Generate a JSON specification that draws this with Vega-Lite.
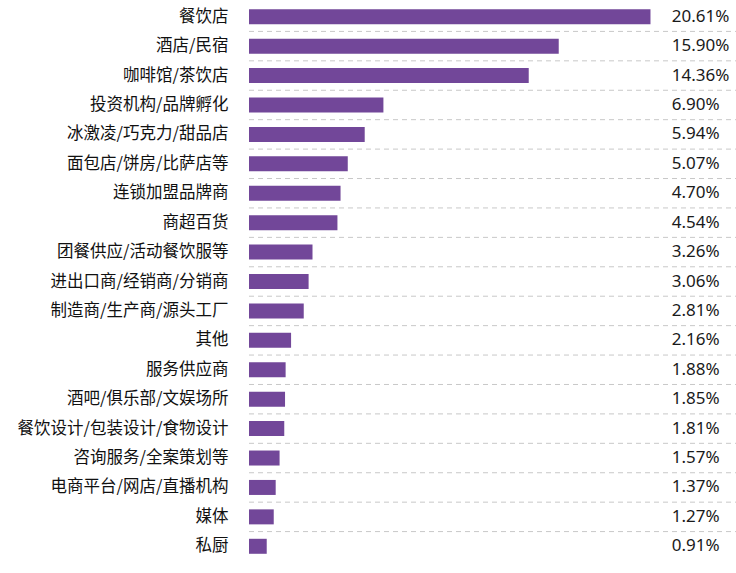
{
  "$schema": "https://vega.github.io/schema/vega-lite/v6.json",
  "autosize": "none",
  "width": 487,
  "height": 559,
  "padding": {"left": 249, "top": 2, "right": 0, "bottom": 12},
  "background": "white",
  "config": {"view": {"stroke": null}, "font": "Noto Sans CJK SC"},
  "datasets": {
    "rows": [
      {"cat": "餐饮店", "v": 20.61, "label": "20.61%", "sep": 0},
      {"cat": "酒店/民宿", "v": 15.90, "label": "15.90%", "sep": 1},
      {"cat": "咖啡馆/茶饮店", "v": 14.36, "label": "14.36%", "sep": 1},
      {"cat": "投资机构/品牌孵化", "v": 6.90, "label": "6.90%", "sep": 1},
      {"cat": "冰激凌/巧克力/甜品店", "v": 5.94, "label": "5.94%", "sep": 1},
      {"cat": "面包店/饼房/比萨店等", "v": 5.07, "label": "5.07%", "sep": 1},
      {"cat": "连锁加盟品牌商", "v": 4.70, "label": "4.70%", "sep": 1},
      {"cat": "商超百货", "v": 4.54, "label": "4.54%", "sep": 1},
      {"cat": "团餐供应/活动餐饮服等", "v": 3.26, "label": "3.26%", "sep": 1},
      {"cat": "进出口商/经销商/分销商", "v": 3.06, "label": "3.06%", "sep": 1},
      {"cat": "制造商/生产商/源头工厂", "v": 2.81, "label": "2.81%", "sep": 1},
      {"cat": "其他", "v": 2.16, "label": "2.16%", "sep": 1},
      {"cat": "服务供应商", "v": 1.88, "label": "1.88%", "sep": 1},
      {"cat": "酒吧/俱乐部/文娱场所", "v": 1.85, "label": "1.85%", "sep": 1},
      {"cat": "餐饮设计/包装设计/食物设计", "v": 1.81, "label": "1.81%", "sep": 1},
      {"cat": "咨询服务/全案策划等", "v": 1.57, "label": "1.57%", "sep": 1},
      {"cat": "电商平台/网店/直播机构", "v": 1.37, "label": "1.37%", "sep": 1},
      {"cat": "媒体", "v": 1.27, "label": "1.27%", "sep": 1},
      {"cat": "私厨", "v": 0.91, "label": "0.91%", "sep": 1}
    ]
  },
  "data": {"name": "rows"},
  "resolve": {"scale": {"y": "independent"}},
  "layer": [
    {
      "transform": [{"filter": "datum.sep == 1"}],
      "mark": {"type": "rule", "color": "#c8c8c8", "strokeWidth": 1, "strokeDash": [5, 4]},
      "encoding": {
        "x": {"datum": 0, "type": "quantitative", "scale": {"domain": [0, 25], "nice": false}, "axis": null},
        "x2": {"datum": 25},
        "y": {
          "field": "cat", "type": "nominal", "sort": null, "bandPosition": 0,
          "scale": {"domain": ["餐饮店", "酒店/民宿", "咖啡馆/茶饮店", "投资机构/品牌孵化", "冰激凌/巧克力/甜品店", "面包店/饼房/比萨店等", "连锁加盟品牌商", "商超百货", "团餐供应/活动餐饮服等", "进出口商/经销商/分销商", "制造商/生产商/源头工厂", "其他", "服务供应商", "酒吧/俱乐部/文娱场所", "餐饮设计/包装设计/食物设计", "咨询服务/全案策划等", "电商平台/网店/直播机构", "媒体", "私厨"], "paddingInner": 0, "paddingOuter": 0},
          "axis": null
        }
      }
    },
    {
      "encoding": {
        "y": {
          "field": "cat", "type": "nominal", "sort": null,
          "scale": {"paddingInner": 0.49, "paddingOuter": 0.245},
          "axis": {"title": null, "domain": false, "ticks": false, "labelPadding": 21, "labelFontSize": 16.5, "labelColor": "#111111", "labelFont": "Noto Sans CJK SC", "labelLimit": 0}
        }
      },
      "layer": [
        {
          "mark": {"type": "bar", "color": "#724799"},
          "encoding": {
            "x": {"field": "v", "type": "quantitative", "scale": {"domain": [0, 25], "nice": false}, "axis": null}
          }
        },
        {
          "mark": {"type": "text", "align": "left", "baseline": "middle", "fontSize": 17, "font": "Noto Sans", "color": "#1a1a1a"},
          "encoding": {
            "x": {"datum": 21.7, "type": "quantitative"},
            "text": {"field": "label"}
          }
        }
      ]
    }
  ]
}
